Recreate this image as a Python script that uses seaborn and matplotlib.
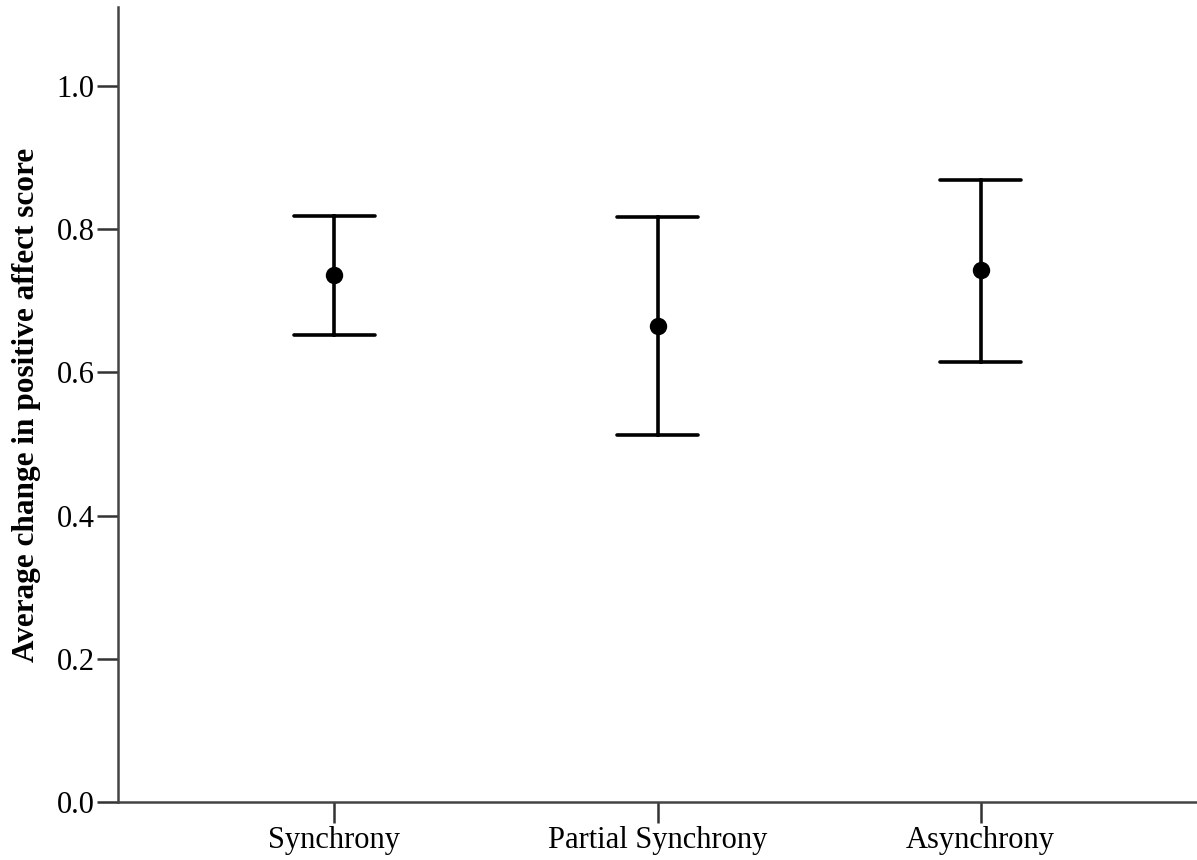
import numpy as np
import pandas as pd
import matplotlib
matplotlib.use("Agg")
import matplotlib.pyplot as plt
import seaborn as sns

categories = ["Synchrony", "Partial Synchrony", "Asynchrony"]
means = [0.736, 0.664, 0.743]
lower = [0.652, 0.512, 0.615]
upper = [0.818, 0.817, 0.869]
y_ticks = [0.0, 0.2, 0.4, 0.6, 0.8, 1.0]
y_label = "Average change in positive affect score"

sns.set_style("ticks")
plt.rcParams["font.family"] = ["Liberation Serif", "DejaVu Serif"]
plt.rcParams["text.color"] = "black"
plt.rcParams["axes.labelcolor"] = "black"
plt.rcParams["xtick.labelcolor"] = "black"
plt.rcParams["ytick.labelcolor"] = "black"

rows = []
for c, lo, m, hi in zip(categories, lower, means, upper):
    for v in (lo, m, hi):
        rows.append({"cond": c, "val": v})
df = pd.DataFrame(rows)

fig = plt.figure(figsize=(11.97, 8.6), dpi=100)
ax = fig.add_axes([118 / 1197, 1 - 802 / 860, 1 - 118 / 1197, (802 - 7) / 860])

sns.pointplot(data=df, x="cond", y="val", order=categories,
              estimator=np.median, errorbar=lambda x: (np.min(x), np.max(x)),
              linestyle="none", color="black", capsize=0.25,
              err_kws={"linewidth": 2.6}, markersize=10.5, ax=ax)

ax.set_xlim(-0.67, 2.67)
ax.set_ylim(0, 1.11)
ax.set_yticks(y_ticks)
ax.set_yticklabels([f"{t:.1f}" for t in y_ticks])
ax.set_xlabel("")
ax.set_ylabel(y_label, fontsize=22.5, fontweight="bold", labelpad=11, color="black")
ax.tick_params(axis="both", labelsize=22, length=15, width=1.8, color="#333333",
               labelcolor="black", pad=2)
for s in ["top", "right"]:
    ax.spines[s].set_visible(False)
for s in ["left", "bottom"]:
    ax.spines[s].set_linewidth(1.8)
    ax.spines[s].set_color("#444444")

fig.savefig("out.png", dpi=100)
